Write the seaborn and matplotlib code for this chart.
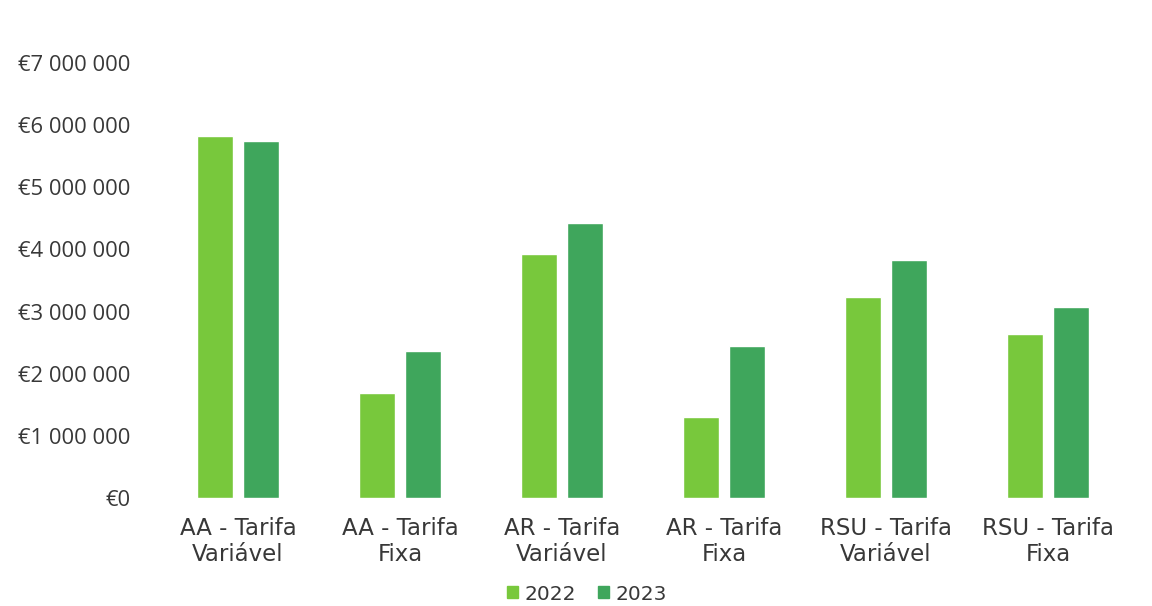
"""
Tarifas AA / AR / RSU - 2022 vs 2023
"""
import pandas as pd
import seaborn as sns
import matplotlib
matplotlib.use("Agg")
import matplotlib.pyplot as plt
from matplotlib.ticker import FuncFormatter, MultipleLocator

# Data (EUR)
categories = ["AA - Tarifa\nVariável", "AA - Tarifa\nFixa", "AR - Tarifa\nVariável",
              "AR - Tarifa\nFixa", "RSU - Tarifa\nVariável", "RSU - Tarifa\nFixa"]
values_2022 = [5830000, 1690000, 3930000, 1310000, 3230000, 2640000]
values_2023 = [5740000, 2370000, 4420000, 2450000, 3830000, 3070000]
years = ["2022", "2023"]
colors = ["#78C83C", "#3FA65C"]

# long format for seaborn
df = pd.DataFrame({
    "categoria": categories * 2,
    "ano": [years[0]] * len(categories) + [years[1]] * len(categories),
    "valor": values_2022 + values_2023,
})

sns.set_style("white")
label_font = ["DejaVu Sans"]
plt.rcParams["font.family"] = ["Open Sans", "DejaVu Sans"]

fig = plt.figure(figsize=(11.52, 6.06), dpi=100)
ax = fig.add_axes([0.1363, 0.1782, 0.8437, 0.7178])

sns.barplot(data=df, x="categoria", y="valor", hue="ano", palette=colors,
            width=0.57, gap=0.22, saturation=1, legend=False, ax=ax)

ax.set_ylim(0, 7000000)
ax.yaxis.set_major_locator(MultipleLocator(1000000))
ax.yaxis.set_major_formatter(FuncFormatter(lambda v, p: "€" + f"{int(v):,}".replace(",", " ")))
ax.set_xlabel("")
ax.set_ylabel("")
sns.despine(ax=ax, left=True, bottom=True)
ax.tick_params(axis="y", length=0, pad=19, labelsize=15.8, labelcolor="#383838")
ax.tick_params(axis="x", length=0, pad=14, labelcolor="#383838")
for lbl in ax.get_xticklabels():
    lbl.set_fontfamily(label_font)
    lbl.set_fontsize(16.5)
    lbl.set_linespacing(1.15)

# legend below the chart
handles = [plt.Rectangle((0, 0), 1, 1, color=c) for c in colors]
fig.legend(handles, years, loc="center", bbox_to_anchor=(587 / 1152, 1 - 594 / 606),
           ncol=2, frameon=False, handlelength=0.55, handleheight=0.55,
           handletextpad=0.3, columnspacing=1.1,
           prop={"family": label_font, "size": 14.5}, labelcolor="#383838")

fig.savefig("out.png", dpi=100)
